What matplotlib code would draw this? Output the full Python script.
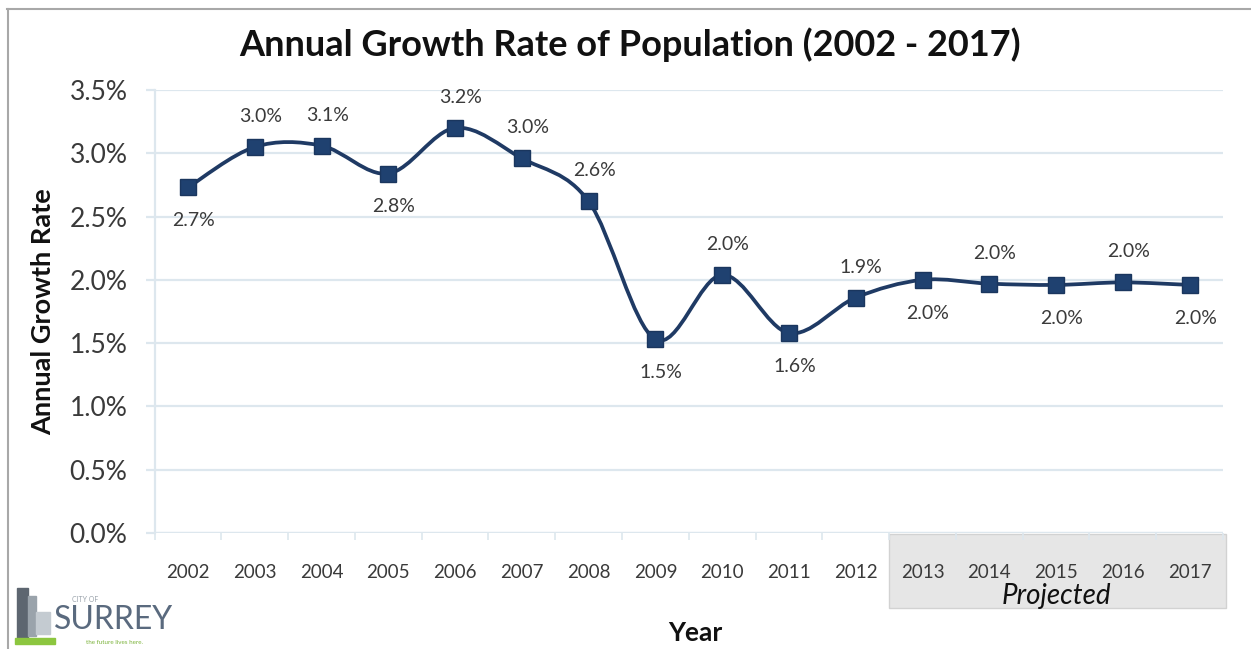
import numpy as np
import matplotlib
matplotlib.use("Agg")
import matplotlib.pyplot as plt
from matplotlib.path import Path
from matplotlib.patches import PathPatch, Rectangle
from matplotlib.lines import Line2D
from matplotlib.ticker import PercentFormatter, MultipleLocator, FixedLocator
import matplotlib.transforms as mtransforms

plt.rcParams['font.family'] = ['Lato', 'DejaVu Sans']

years = ["2002", "2003", "2004", "2005", "2006", "2007", "2008", "2009",
         "2010", "2011", "2012", "2013", "2014", "2015", "2016", "2017"]
growth = [2.73, 3.05, 3.06, 2.84, 3.20, 2.96, 2.62, 1.53,
          2.04, 1.58, 1.86, 2.00, 1.97, 1.96, 1.98, 1.96]
labels = ["2.7%", "3.0%", "3.1%", "2.8%", "3.2%", "3.0%", "2.6%", "1.5%",
          "2.0%", "1.6%", "1.9%", "2.0%", "2.0%", "2.0%", "2.0%", "2.0%"]
label_above = [False, True, True, False, True, True, True, False,
               True, False, True, False, True, False, True, False]
n_projected = 5

navy = "#1f3a64"
grid_c = "#dde7ee"
text_c = "#3a3a3a"

fig = plt.figure(figsize=(12.51, 6.49), dpi=100)
fig.patch.set_facecolor("white")
W, H = 1251, 649
ax = fig.add_axes([154.6 / W, 116 / H, (1223 - 154.6) / W, (533 - 90) / H])

x = np.arange(len(years))
y = np.array(growth)

# smoothed line: cubic bezier segments (catmull-rom style control points)
verts = [(x[0], y[0])]
codes = [Path.MOVETO]
for i in range(len(x) - 1):
    p0 = np.array([x[max(i - 1, 0)], y[max(i - 1, 0)]])
    p1 = np.array([x[i], y[i]])
    p2 = np.array([x[i + 1], y[i + 1]])
    p3 = np.array([x[min(i + 2, len(x) - 1)], y[min(i + 2, len(x) - 1)]])
    c1 = p1 + (p2 - p0) / 6
    c2 = p2 - (p3 - p1) / 6
    verts += [tuple(c1), tuple(c2), tuple(p2)]
    codes += [Path.CURVE4] * 3
ax.add_patch(PathPatch(Path(verts, codes), fill=False, edgecolor=navy,
                       lw=2.7, zorder=3, capstyle="round", joinstyle="round"))
ax.plot(x, y, linestyle="none", marker="s", markersize=11.5,
        color="#1f4170", markeredgecolor="#1a365e", zorder=4)

for xi, yi, lab, up in zip(x, y, labels, label_above):
    ax.annotate(lab, (xi, yi), xytext=(4, 22 if up else -24),
                textcoords="offset points", ha="center", va="center",
                fontsize=14, color=text_c)

ax.set_xlim(-0.5, len(years) - 0.5)
ax.set_ylim(0, 3.5)
ax.yaxis.set_major_locator(MultipleLocator(0.5))
ax.yaxis.set_major_formatter(PercentFormatter(decimals=1))
ax.grid(axis="y", color=grid_c, lw=1.6)
ax.set_axisbelow(True)
for s in ["top", "right", "bottom"]:
    ax.spines[s].set_visible(False)
ax.spines["left"].set_color(grid_c)
ax.spines["left"].set_linewidth(1.6)
ax.axhline(0, color=grid_c, lw=1.6, zorder=1)

ax.set_xticks(x)
ax.set_xticklabels(years)
ax.xaxis.set_minor_locator(FixedLocator(np.arange(-0.5, len(years), 1)))
ax.tick_params(axis="x", which="major", length=0, pad=22, labelsize=13.5,
               labelcolor=text_c)
ax.tick_params(axis="x", which="minor", length=5, color=grid_c, width=1.2)
ax.tick_params(axis="y", length=6.5, color=grid_c, width=1.6, pad=13,
               labelsize=19, labelcolor=text_c)

fig.text(630 / W, 1 - 45 / H, "Annual Growth Rate of Population (2002 - 2017)",
         fontsize=26, fontweight="bold", color="#111111",
         ha="center", va="center")
ax.set_ylabel("Annual Growth Rate", fontsize=19.5, fontweight="bold",
              color="#111111", labelpad=10)
fig.text(695 / W, 1 - 633 / H, "Year", fontsize=19, fontweight="bold",
         color="#111111", ha="center", va="center")

# projected years band below the axis
tr = mtransforms.blended_transform_factory(ax.transData, ax.transAxes)
first_proj = len(years) - n_projected
ax.add_patch(Rectangle((first_proj - 0.5, -0.169), n_projected + 0.05, 0.166,
                       transform=tr, clip_on=False, facecolor="#e6e6e6",
                       edgecolor="#d2d2d2", lw=1.0, zorder=0.5))
ax.text(first_proj + (n_projected - 1) / 2, -0.142, "Projected", transform=tr,
        ha="center", va="center", fontsize=20, style="italic", color="#111111")

# outer frame
fig.add_artist(Line2D([7 / W, 1], [1 - 9 / H, 1 - 9 / H], color="#a8a8a8", lw=1.5))
fig.add_artist(Line2D([8 / W, 8 / W], [0, 1 - 9 / H], color="#a8a8a8", lw=1.5))

# city logo
fig.add_artist(Rectangle((17 / W, 1 - 638 / H), 11 / W, 50 / H, color="#5d6670"))
fig.add_artist(Rectangle((28 / W, 1 - 636 / H), 8 / W, 40 / H, color="#9aa3ab"))
fig.add_artist(Rectangle((36 / W, 1 - 634 / H), 14 / W, 22 / H, color="#c4cbd1"))
fig.add_artist(Rectangle((15 / W, 1 - 644 / H), 40 / W, 6 / H, color="#8cc63f"))
fig.text(72 / W, 1 - 599 / H, "CITY OF", fontsize=5, color="#9aa3ab",
         ha="left", va="center")
fig.text(54 / W, 1 - 620 / H, "SURREY", fontsize=23, color="#5a6a7e",
         ha="left", va="center")
fig.text(86 / W, 1 - 643 / H, "the future lives here.", fontsize=4.5,
         color="#7bb33a", ha="left", va="center")

fig.savefig("out.png", dpi=100)
